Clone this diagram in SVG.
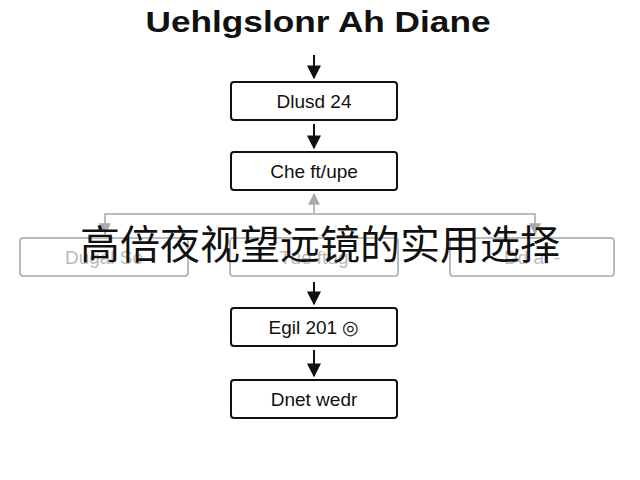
<svg xmlns="http://www.w3.org/2000/svg" width="640" height="480" viewBox="0 0 640 480">
<defs>
<marker id="a" viewBox="0 0 10 10" refX="9" refY="5" markerWidth="7" markerHeight="7" orient="auto"><path d="M0,0L10,5L0,10z" fill="#111"/></marker>
<marker id="g" viewBox="0 0 10 10" refX="9" refY="5" markerWidth="6" markerHeight="6" orient="auto"><path d="M0,0L10,5L0,10z" fill="#aaa"/></marker>
</defs>
<style>
.b{fill:#fff;stroke:#111;stroke-width:2}
.f{fill:#fff;stroke:#bbb;stroke-width:2}
.t{font-family:"Liberation Sans",sans-serif;font-size:19px;text-anchor:middle;fill:#111}
.ft{font-family:"Liberation Sans",sans-serif;font-size:19px;text-anchor:middle;fill:#bbb}
.c{stroke:#111;stroke-width:2;fill:none}
.cg{stroke:#bbb;stroke-width:2;fill:none}
</style>
<rect width="640" height="480" fill="#fff"/>
<text x="318" y="32" class="t" style="font-size:29px;font-weight:bold" textLength="345" lengthAdjust="spacingAndGlyphs">Uehlgslonr Ah Diane</text>
<g id="connectors">
<path class="c" d="M314 55V78" marker-end="url(#a)"/>
<path class="c" d="M314 124V148" marker-end="url(#a)"/>
<path class="cg" d="M314 214V194" marker-end="url(#g)"/>
<path class="cg" d="M314 214H105V234" marker-end="url(#g)"/>
<path class="cg" d="M314 214H535V234" marker-end="url(#g)"/>
<path class="c" d="M314 282V304" marker-end="url(#a)"/>
<path class="c" d="M314 350V376" marker-end="url(#a)"/>
</g>
<g id="n1"><rect class="b" x="231" y="82" width="166" height="38" rx="3"/><text class="t" x="314" y="108">Dlusd 24</text></g>
<g id="n2"><rect class="b" x="231" y="152" width="166" height="38" rx="3"/><text class="t" x="314" y="178">Che ft/upe</text></g>
<g id="n3"><rect class="f" x="20" y="238" width="168" height="38" rx="3"/><text class="ft" x="104" y="264">Dugal So</text></g>
<g id="n4"><rect class="f" x="230" y="238" width="168" height="38" rx="3"/><text class="ft" x="314" y="264">Tue ftug</text></g>
<g id="n5"><rect class="f" x="450" y="238" width="164" height="38" rx="3"/><text class="ft" x="532" y="264">Dd ai -</text></g>
<g id="n6"><rect class="b" x="231" y="308" width="166" height="38" rx="3"/><text class="t" x="314" y="334">Egil 201 ◎</text></g>
<g id="n7"><rect class="b" x="231" y="380" width="166" height="38" rx="3"/><text class="t" x="314" y="406">Dnet wedr</text></g>
<text x="320" y="259" style="font-family:'Noto Sans CJK SC',sans-serif;font-size:40px;text-anchor:middle;fill:#111">高倍夜视望远镜的实用选择</text>
</svg>
